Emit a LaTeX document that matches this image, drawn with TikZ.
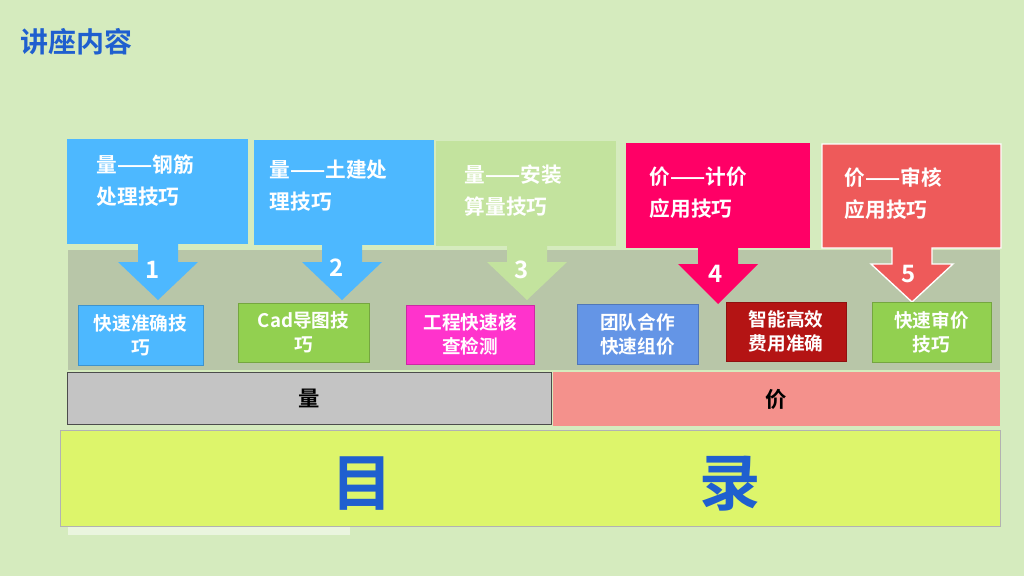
\documentclass[tikz,border=0pt]{standalone}
\usepackage{fontspec}
\setmainfont{Noto Sans CJK SC Bold}
\begin{document}
\begin{tikzpicture}[x=0.75pt,y=-0.75pt,
  co/.style={text=white,font=\fontsize{15.5}{24}\selectfont,align=left,anchor=north west},
  sb/.style={draw=#1!80!black,fill=#1,text=white,font=\fontsize{14}{18}\selectfont,align=center,inner sep=0pt},
  num/.style={text=white,font=\fontsize{18}{20}\selectfont}]
\definecolor{bg}{HTML}{D5EBBE}
\definecolor{band}{HTML}{B8C6A8}
\definecolor{cblue}{HTML}{4DB8FF}
\definecolor{cgl}{HTML}{C3E39E}
\definecolor{cpink}{HTML}{FF0066}
\definecolor{cred}{HTML}{EE5A5A}
\definecolor{cgreen}{HTML}{92D050}
\definecolor{cmag}{HTML}{FF33CC}
\definecolor{cblu2}{HTML}{6495E6}
\definecolor{cdred}{HTML}{B41414}
\definecolor{tblue}{HTML}{1F5FCF}
\definecolor{cgray}{HTML}{C4C4C4}
\definecolor{csalmon}{HTML}{F4918C}
\definecolor{cyel}{HTML}{DDF56B}
\fill[bg] (0,0) rectangle (1024,576);
\useasboundingbox (0,0) rectangle (1024,576);
\node[anchor=west,text=tblue,font=\fontsize{21}{24}\selectfont] (title) at (16,42) {讲座内容};
\fill[band] (68,250) rectangle (1000,370);
% callouts
\newcommand{\callout}[8]{%
 \fill[#1] (#2,#3) rectangle (#4,#5);
 \fill[#1] ({#6-20},#5) -- ({#6-20},#7) -- ({#6-40},#7) -- (#6,#8) -- ({#6+40},#7) -- ({#6+20},#7) -- ({#6+20},#5) -- cycle;}
\callout{cblue}{67}{139}{248}{244}{158}{262}{300}
\callout{cblue}{254}{140}{434}{245}{342}{262}{300}
\callout{cgl}{436}{141}{616}{246}{527}{262}{300}
\callout{cpink}{626}{143}{810}{248}{718}{264}{304}
\draw[white,line width=1pt,fill=cred] (822,144) -- (1001,144) -- (1001,248) -- (932,248) -- (932,264) -- (953,264) -- (912,302) -- (871,264) -- (892,264) -- (892,248) -- (822,248) -- cycle;
\node[co] (c1) at (92,150) {量——钢筋\\处理技巧};
\node[co] (c2) at (265,155) {量——土建处\\理技巧};
\node[co] (c3) at (460,160) {量——安装\\算量技巧};
\node[co] (c4) at (645,162) {价——计价\\应用技巧};
\node[co] (c5) at (840,163) {价——审核\\应用技巧};
\node[num] (n1) at (153,270) {1};
\node[num] (n2) at (337,268) {2};
\node[num] (n3) at (522,270) {3};
\node[num] (n4) at (716,274) {4};
\node[num] (n5) at (909,274) {5};
% small boxes
\node[sb=cblue,minimum width=93.75pt,minimum height=45pt] (b1) at (140.5,335) {快速准确技\\巧};
\node[sb=cgreen,minimum width=98.25pt,minimum height=44.25pt] (b2) at (303.5,332.5) {Cad导图技\\巧};
\node[sb=cmag,minimum width=96pt,minimum height=44.25pt] (b3) at (470,334.5) {工程快速核\\查检测};
\node[sb=cblu2,minimum width=90.75pt,minimum height=45pt] (b4) at (637.5,334) {团队合作\\快速组价};
\node[sb=cdred,minimum width=90pt,minimum height=44.25pt] (b5) at (786,331.5) {智能高效\\费用准确};
\node[sb=cgreen,minimum width=89.25pt,minimum height=45pt] (b6) at (931.5,332) {快速审价\\技巧};
% bars
\node[draw=black!70,fill=cgray,minimum width=363pt,minimum height=39pt,inner sep=0pt,font=\fontsize{16}{18}\selectfont] (liang) at (309,398) {量};
\node[fill=csalmon,minimum width=335.25pt,minimum height=40.5pt,inner sep=0pt,font=\fontsize{16}{18}\selectfont] (jia) at (776.5,399) {价};
\fill[white,opacity=0.5] (68,526) rectangle (350,535);
\node[draw=black!30,fill=cyel,minimum width=705pt,minimum height=72pt,inner sep=0pt] (big) at (530,478) {};
\node[text=tblue,font=\fontsize{46}{50}\selectfont] (mu) at (362,484) {目};
\node[text=tblue,font=\fontsize{46}{50}\selectfont] (lu) at (730,484) {录};
\end{tikzpicture}
\end{document}
